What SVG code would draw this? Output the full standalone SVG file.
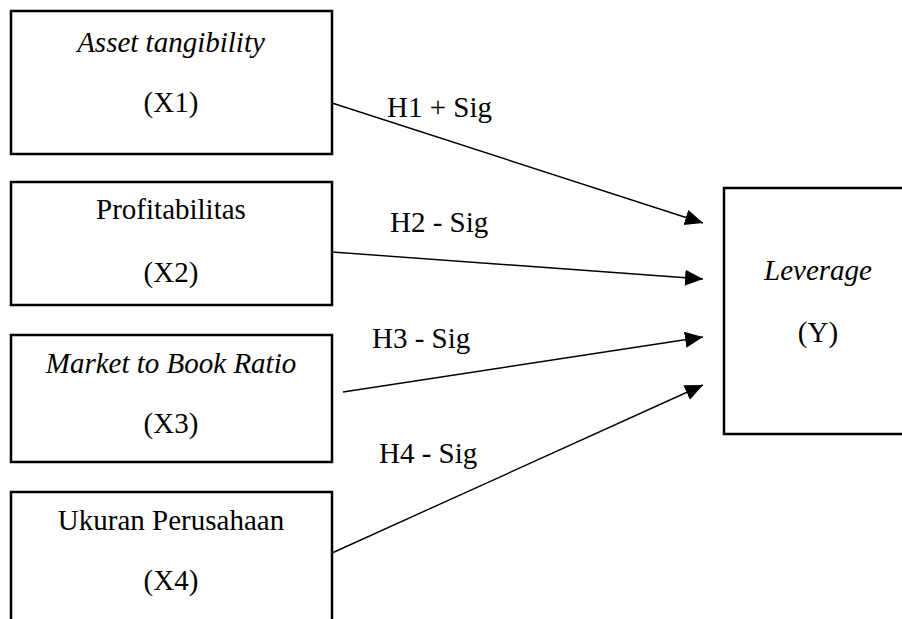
<svg xmlns="http://www.w3.org/2000/svg" width="902" height="619" viewBox="0 0 902 619">
<style>
.box{fill:#fff;stroke:#000;stroke-width:2.5}
.t{font-family:"Liberation Serif","Times New Roman",serif;font-size:29px;fill:#000;text-anchor:middle}
.i{font-style:italic}
.lbl{font-family:"Liberation Serif","Times New Roman",serif;font-size:29px;fill:#000}
.edge{stroke:#000;stroke-width:1.4;fill:none;marker-end:url(#ah)}
</style>
<defs>
<marker id="ah" markerUnits="userSpaceOnUse" markerWidth="20" markerHeight="18" refX="18" refY="8" orient="auto">
<path d="M0,0 L18,8 L0,16 z" fill="#000"/>
</marker>
</defs>
<rect width="902" height="619" fill="#fff"/>
<g id="x1">
<rect class="box" x="11" y="11" width="321" height="143"/>
<text class="t i" x="171" y="52">Asset tangibility</text>
<text class="t" x="171" y="112">(X1)</text>
</g>
<g id="x2">
<rect class="box" x="11" y="182" width="321" height="123"/>
<text class="t" x="171" y="219">Profitabilitas</text>
<text class="t" x="171" y="282">(X2)</text>
</g>
<g id="x3">
<rect class="box" x="11" y="335" width="321" height="127"/>
<text class="t i" x="171" y="373">Market to Book Ratio</text>
<text class="t" x="171" y="433">(X3)</text>
</g>
<g id="x4">
<rect class="box" x="11" y="492" width="321" height="150"/>
<text class="t" x="171" y="530">Ukuran Perusahaan</text>
<text class="t" x="171" y="590">(X4)</text>
</g>
<g id="y">
<rect class="box" x="724" y="188" width="200" height="246"/>
<text class="t i" x="818" y="280">Leverage</text>
<text class="t" x="818" y="342">(Y)</text>
</g>
<g id="connectors">
<line class="edge" x1="332" y1="103" x2="703" y2="223"/>
<line class="edge" x1="332" y1="252" x2="703" y2="279"/>
<line class="edge" x1="343" y1="392" x2="703" y2="337"/>
<line class="edge" x1="332" y1="553" x2="703" y2="385"/>
<text class="lbl" x="387" y="117">H1 + Sig</text>
<text class="lbl" x="390" y="232">H2 - Sig</text>
<text class="lbl" x="372" y="348">H3 - Sig</text>
<text class="lbl" x="379" y="463">H4 - Sig</text>
</g>
</svg>
